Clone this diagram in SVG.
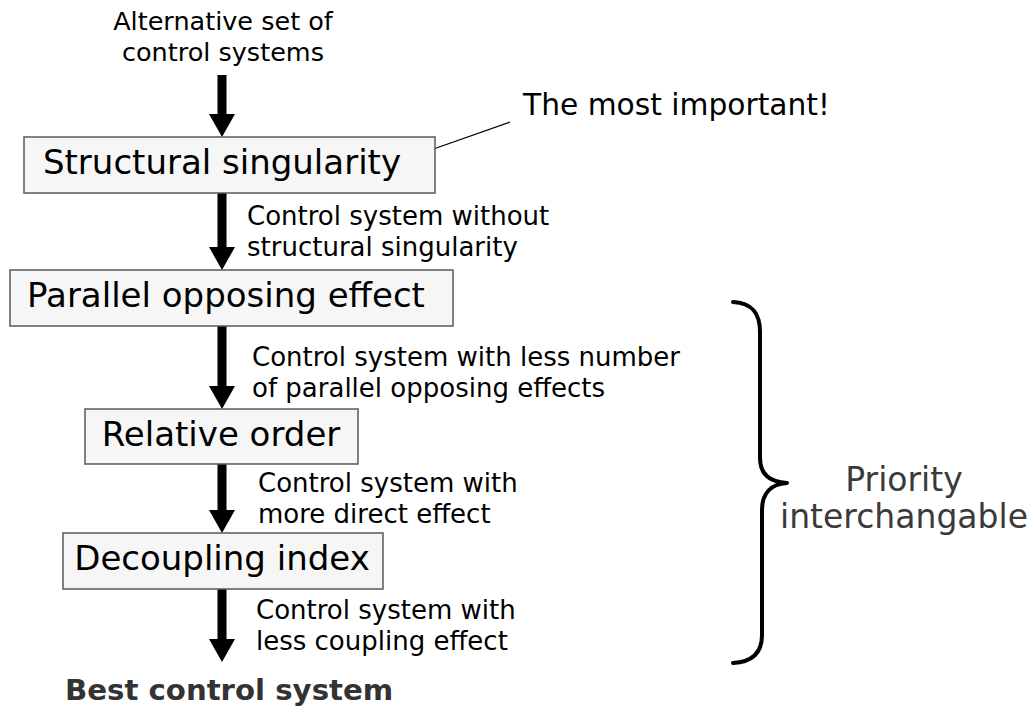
<svg xmlns="http://www.w3.org/2000/svg" width="1034" height="707" viewBox="0 0 1034 707">
  <style>
    .box { fill: #f6f6f6; stroke: #5a5a5a; stroke-width: 1.5; }
    .boxtext { font-family: "DejaVu Sans", Verdana, sans-serif; font-size: 34px; fill: #000; text-anchor: middle; }
    .label { font-family: "DejaVu Sans", Verdana, sans-serif; font-size: 26px; fill: #000; }
    .arrow { fill: #000; stroke: none; }
    .brace { fill: none; stroke: #000; stroke-width: 4; stroke-linecap: round; stroke-linejoin: round; }
    .note { font-family: "DejaVu Sans", Verdana, sans-serif; font-size: 33px; fill: #3a3a3a; text-anchor: middle; }
  </style>

  <rect width="1034" height="707" fill="#fff"/>

  <!-- input label -->
  <g id="input" class="label" text-anchor="middle">
    <text x="223" y="30" font-size="25.5">Alternative set of</text>
    <text x="223" y="61" font-size="25.5">control systems</text>
  </g>

  <!-- connectors: thick down arrows between the stages -->
  <g id="connectors">
    <polygon class="arrow" points="217.5,75 226.5,75 226.5,114 235,114 222,137 209,114 217.5,114"/>
    <polygon class="arrow" points="217.5,193 226.5,193 226.5,247 235,247 222,270 209,247 217.5,247"/>
    <polygon class="arrow" points="217.5,326 226.5,326 226.5,386 235,386 222,409 209,386 217.5,386"/>
    <polygon class="arrow" points="217.5,464 226.5,464 226.5,510 235,510 222,533 209,510 217.5,510"/>
    <polygon class="arrow" points="217.5,589 226.5,589 226.5,639 235,639 222,662 209,639 217.5,639"/>
    <line x1="425" y1="152" x2="510" y2="122" stroke="#000" stroke-width="1.3"/>
  </g>

  <!-- stages -->
  <g id="structural-singularity">
    <rect class="box" x="24" y="137" width="411" height="56"/>
    <text class="boxtext" x="222" y="174">Structural singularity</text>
  </g>
  <g id="parallel-opposing-effect">
    <rect class="box" x="10" y="270" width="443" height="56"/>
    <text class="boxtext" x="226" y="307">Parallel opposing effect</text>
  </g>
  <g id="relative-order">
    <rect class="box" x="85" y="409" width="273" height="55"/>
    <text class="boxtext" x="221" y="446">Relative order</text>
  </g>
  <g id="decoupling-index">
    <rect class="box" x="63" y="533" width="320" height="56"/>
    <text class="boxtext" x="222" y="570">Decoupling index</text>
  </g>

  <!-- annotations beside arrows -->
  <g id="label-1" class="label">
    <text x="247" y="225">Control system without</text>
    <text x="247" y="256">structural singularity</text>
  </g>
  <g id="label-2" class="label">
    <text x="252" y="366">Control system with less number</text>
    <text x="252" y="397">of parallel opposing effects</text>
  </g>
  <g id="label-3" class="label">
    <text x="258" y="492">Control system with</text>
    <text x="258" y="523">more direct effect</text>
  </g>
  <g id="label-4" class="label">
    <text x="256" y="619">Control system with</text>
    <text x="256" y="650">less coupling effect</text>
  </g>

  <!-- callout -->
  <g id="callout">
    <text x="523" y="115" font-family="DejaVu Sans, Verdana, sans-serif" font-size="29.7" fill="#000">The most important!</text>
  </g>

  <!-- brace grouping the interchangeable criteria -->
  <g id="priority">
    <path class="brace" d="M733,302 C752,303 760,313 760,332 L760,458 C760,474 770,482 787,483 C771,484 762,493 762,510 L762,635 C762,653 752,662 733,663"/>
    <text class="note" x="904" y="491">Priority</text>
    <text class="note" x="904" y="528">interchangable</text>
  </g>

  <!-- result -->
  <g id="result">
    <text x="65" y="700" font-family="DejaVu Sans, Verdana, sans-serif" font-size="29.2" font-weight="bold" fill="#333">Best control system</text>
  </g>
</svg>
